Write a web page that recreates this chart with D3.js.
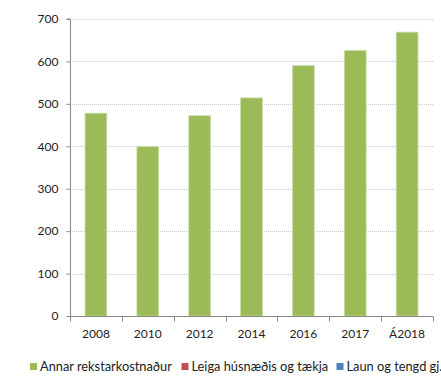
<!DOCTYPE html>
<html><head><meta charset="utf-8">
<script src="https://cdn.jsdelivr.net/npm/d3@7"></script>
<style>body{margin:0;background:#fff}svg{display:block}text{font-family:Lato,"Open Sans",sans-serif;fill:#222}</style>
</head><body>
<svg id="c" width="441" height="377"></svg>
<script>
const categories = ["2008","2010","2012","2014","2016","2017","Á2018"];
const annar = [478, 399, 472, 514, 590, 626, 669];
const leiga = [0, 0, 0, 0, 0, 0, 0];
const laun = [0, 0, 0, 0, 0, 0, 0];
const yTicks = [0,100,200,300,400,500,600,700];
const seriesNames = ["Annar rekstarkostnaður","Leiga húsnæðis og tækja","Laun og tengd gj."];
const seriesColors = ["#9BBB59","#C0504D","#4F81BD"];

const svg = d3.select("#c");
const mLeft = 70, mRight = 433, mTop = 19, mBottom = 316;
const x = d3.scaleBand().domain(categories).range([mLeft, mRight]).paddingInner(0.58).paddingOuter(0.29);
const y = d3.scaleLinear().domain([0,700]).range([mBottom, mTop]);

// gridlines
svg.append("g").selectAll("line").data(yTicks.filter(d=>d>0)).join("line")
  .attr("x1", mLeft).attr("x2", mRight)
  .attr("y1", d=>Math.round(y(d))+0.5).attr("y2", d=>Math.round(y(d))+0.5)
  .attr("stroke","#c8c8c8").attr("stroke-dasharray","1,1");

// bars (stacked series, only first non-zero)
const data = categories.map((c,i)=>({cat:c, a:annar[i], l:leiga[i], u:laun[i]}));
const stack = d3.stack().keys(["a","l","u"])(data);
svg.append("g").selectAll("g").data(stack).join("g")
  .attr("fill",(d,i)=>seriesColors[i])
  .selectAll("rect").data(d=>d).join("rect")
  .attr("x", d=>x(d.data.cat)).attr("width", x.bandwidth())
  .attr("y", d=>y(d[1])).attr("height", d=>y(d[0])-y(d[1]))
  .attr("stroke", d=> (d[1]-d[0])>0 ? "#c9dca5" : "none").attr("stroke-width",0.8);

// y axis
const ya = svg.append("g").attr("transform",`translate(${mLeft+0.5},0)`)
  .call(d3.axisLeft(y).tickValues(yTicks).tickSize(4).tickPadding(8));
ya.select(".domain").attr("stroke","#888").attr("d",`M-4,${y(700)}H0V${y(0)}`);
ya.selectAll(".tick line").attr("stroke","#888");
ya.selectAll("text").attr("font-size",12).attr("fill","#222").attr("font-family","Lato,sans-serif");

// x axis
const xa = svg.append("g").attr("transform",`translate(0,${mBottom+0.5})`);
xa.append("line").attr("x1",mLeft).attr("x2",mRight).attr("stroke","#888");
const bounds = categories.map(c=>x(c)-x.step()*x.paddingInner()/2).concat([mRight]);
xa.selectAll("line.t").data(bounds).join("line").attr("class","t")
  .attr("x1",d=>Math.round(d)+0.5).attr("x2",d=>Math.round(d)+0.5).attr("y1",0).attr("y2",5).attr("stroke","#888");
xa.selectAll("text").data(categories).join("text")
  .attr("x",d=>x(d)+x.bandwidth()/2).attr("y",21).attr("text-anchor","middle")
  .attr("font-size",12).text(d=>d);

// legend
const legX = [30, 181.5, 336.5];
const leg = svg.append("g").selectAll("g").data(seriesNames).join("g")
  .attr("transform",(d,i)=>`translate(${legX[i]},363)`);
leg.append("rect").attr("width",7).attr("height",7).attr("fill",(d,i)=>seriesColors[i]);
leg.append("text").attr("x",10).attr("y",8).attr("font-size",12.8).text(d=>d);
</script>
</body></html>
